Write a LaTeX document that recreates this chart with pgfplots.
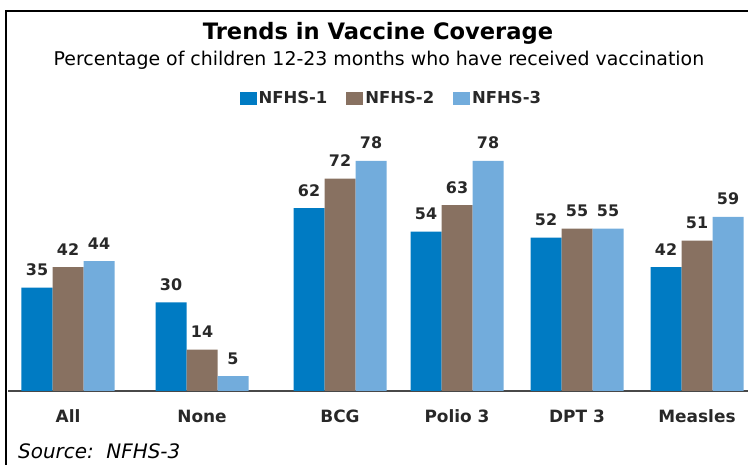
\documentclass[border=0pt]{standalone}
\usepackage{fontspec}
\setmainfont{DejaVu Sans}
\usepackage{pgfplots}
\pgfplotsset{compat=1.18}
\definecolor{cA}{RGB}{0,123,195}
\definecolor{cB}{RGB}{136,113,97}
\definecolor{cC}{RGB}{114,172,220}
\definecolor{txt}{RGB}{40,40,40}
\begin{document}
\begin{tikzpicture}[x=1bp,y=1bp]
\path[use as bounding box] (0,0) rectangle (748,465);
\draw[line width=2bp, black] (6,0) -- (6,454) -- (748,454);
\begin{axis}[
  at={(8bp,74bp)}, anchor=south west,
  scale only axis, width=740bp, height=236bp,
  xmin=8, xmax=748, ymin=0, ymax=80,
  axis x line*=bottom, axis y line=none,
  x axis line style={line width=1.6bp, color=txt!85, -},
  xtick={68,202,340,457,577,697},
  xticklabels={All,None,BCG,Polio 3,DPT 3,Measles},
  major tick length=0pt,
  xticklabel style={font=\fontsize{17}{17}\selectfont\bfseries, text=txt, anchor=base, inner sep=0pt, yshift=-32bp},
  ybar=0pt, bar width=31bp,
  nodes near coords,
  /pgf/number format/assume math mode=true,
  every node near coord/.append style={font=\fontsize{16}{16}\selectfont\bfseries, text=txt, anchor=base, inner sep=0pt, yshift=12bp},
  legend columns=3,
  legend style={draw=none, fill=none, at={(0.518,1.2415)}, anchor=center, font=\fontsize{16.5}{16.5}\selectfont\bfseries, text=txt, /tikz/every even column/.append style={column sep=17bp}},
  legend image code/.code={\fill[#1] (0bp,-6.5bp) rectangle (17bp,6.5bp);},
  clip=false,
]
\addplot[fill=cA, draw=none] coordinates {(68,35) (202,30) (340,62) (457,54) (577,52) (697,42)};
\addplot[fill=cB, draw=none] coordinates {(68,42) (202,14) (340,72) (457,63) (577,55) (697,51)};
\addplot[fill=cC, draw=none] coordinates {(68,44) (202,5) (340,78) (457,78) (577,55) (697,59)};
\legend{NFHS-1,NFHS-2,NFHS-3}
\end{axis}
\node[anchor=base, font=\fontsize{22.7}{22.7}\selectfont\bfseries] at (378,425) {Trends in Vaccine Coverage};
\node[anchor=base, font=\fontsize{19}{19}\selectfont] at (379,399) {Percentage of children 12-23 months who have received vaccination};
\node[anchor=base west, inner sep=0pt, font=\fontsize{20}{20}\selectfont\itshape] at (18,6) {Source:\ \ NFHS-3};
\end{tikzpicture}
\end{document}
